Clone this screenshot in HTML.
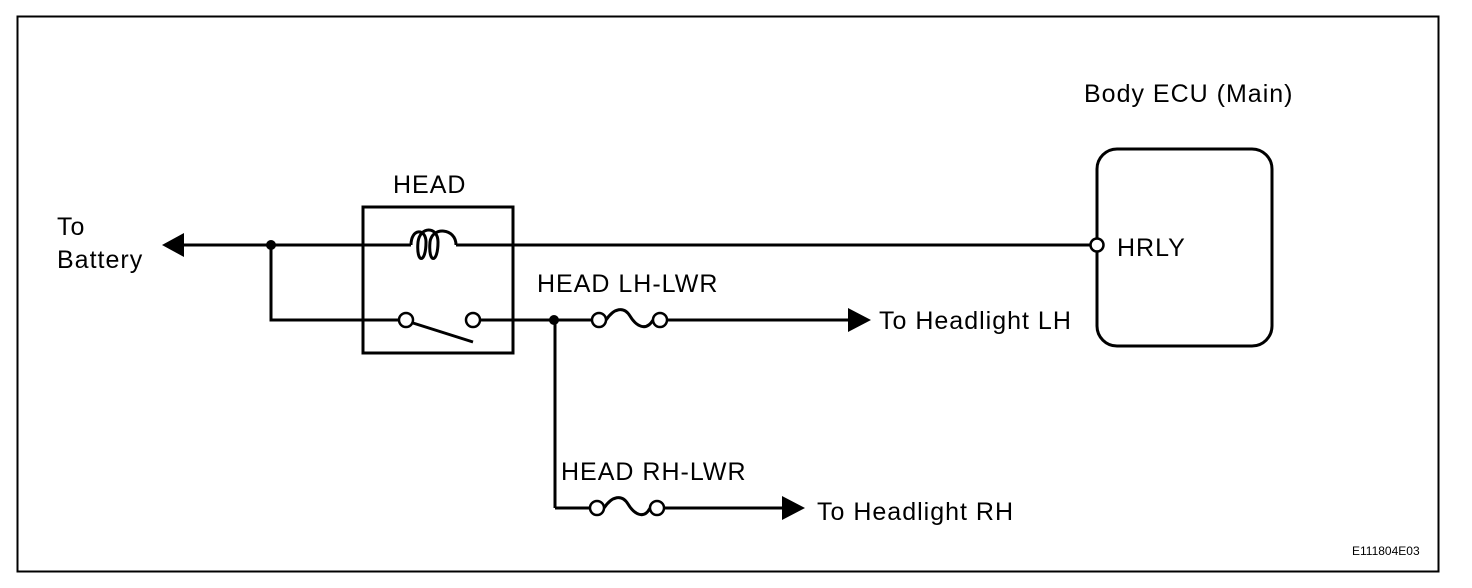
<!DOCTYPE html>
<html><head><style>html,body{margin:0;padding:0;background:#fff}</style></head><body>
<svg width="1472" height="588" xmlns="http://www.w3.org/2000/svg" style="display:block">
<rect x="0" y="0" width="1472" height="588" fill="#fff"/>
<rect x="17.5" y="16.5" width="1421" height="555" fill="none" stroke="#000" stroke-width="2"/>
<g fill="none" stroke="#000" stroke-width="3">
<rect x="363" y="207" width="150" height="146"/>
<rect x="1097" y="149" width="175" height="197" rx="20"/>
<line x1="182" y1="245" x2="411" y2="245"/>
<line x1="456" y1="245" x2="1091" y2="245"/>
<path d="M411 245 C411 228 426 228 426 242 C426 264 416 264 418 242 C420 226 438 226 438 242 C438 264 428 264 430 242 C432 226 456 228 456 245"/>
<polyline points="271,245 271,320 399,320"/>
<line x1="413" y1="323" x2="473" y2="342"/>
<line x1="480" y1="320" x2="592" y2="320"/>
<line x1="555" y1="320" x2="555" y2="508"/>
<line x1="555" y1="508" x2="590" y2="508"/>
<path d="M606 320 C614 308 624 306 630 316 C636 326 646 332 653 320"/>
<line x1="667" y1="320" x2="850" y2="320"/>
<path d="M604 508 C612 496 622 494 628 504 C634 514 644 520 650 508"/>
<line x1="664" y1="508" x2="784" y2="508"/>
</g>
<g fill="#fff" stroke="#000" stroke-width="2.5">
<circle cx="406" cy="320" r="7"/>
<circle cx="473" cy="320" r="7"/>
<circle cx="599" cy="320" r="7"/>
<circle cx="660" cy="320" r="7"/>
<circle cx="597" cy="508" r="7"/>
<circle cx="657" cy="508" r="7"/>
<circle cx="1097" cy="245" r="6.5"/>
</g>
<g fill="#000">
<circle cx="271" cy="245" r="5"/>
<circle cx="554" cy="320" r="5"/>
<polygon points="162,245 184,233 184,257"/>
<polygon points="871,320 848,308 848,332"/>
<polygon points="805,508 782,496 782,520"/>
</g>
<g font-family="Liberation Sans, sans-serif" font-size="25" letter-spacing="1" fill="#000">
<text x="57" y="235">To</text>
<text x="57" y="268">Battery</text>
<text x="393" y="193">HEAD</text>
<text x="537" y="292">HEAD LH-LWR</text>
<text x="879" y="329">To Headlight LH</text>
<text x="561" y="480">HEAD RH-LWR</text>
<text x="817" y="520">To Headlight RH</text>
<text x="1084" y="102">Body ECU (Main)</text>
<text x="1117" y="256">HRLY</text>
<text x="1352" y="555" font-size="12" letter-spacing="0">E111804E03</text>
</g>
</svg>
</body></html>
